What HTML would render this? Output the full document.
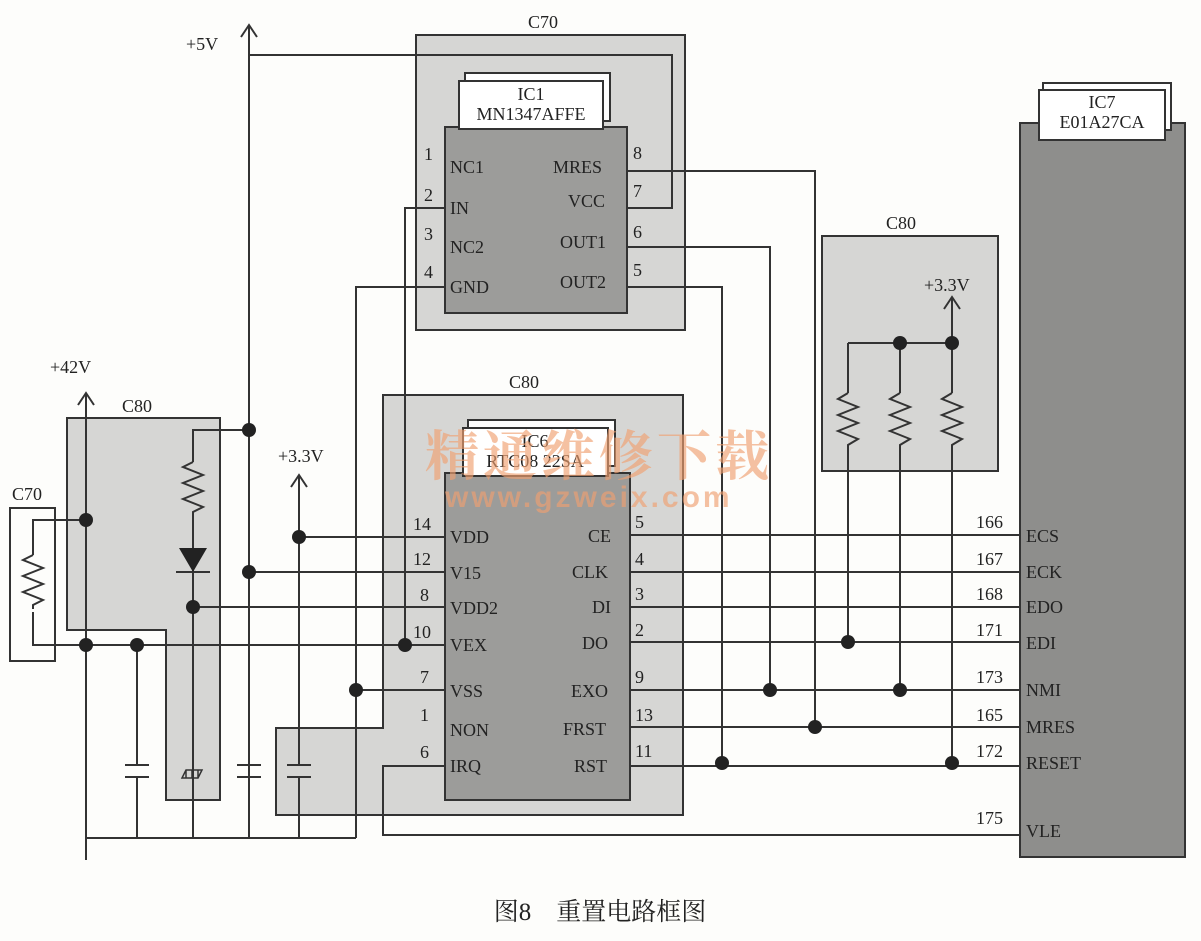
<!DOCTYPE html>
<html><head><meta charset="utf-8"><style>
html,body{margin:0;padding:0;background:#fdfdfb;}
svg{display:block;}
text{font-family:"Liberation Serif","Noto Serif CJK SC",serif;fill:#222;}
text.wm1{font-family:"Noto Serif CJK SC",serif;fill:#f0a070;fill-opacity:0.65;font-weight:bold;}
text.wm2{font-family:"Liberation Sans",sans-serif;fill:#f0a070;fill-opacity:0.65;font-weight:bold;}
</style></head><body>
<svg width="1201" height="941" viewBox="0 0 1201 941" xmlns="http://www.w3.org/2000/svg">
<g stroke="#333" stroke-width="2" fill="#d6d6d4">
<rect x="416" y="35" width="269" height="295"/>
<rect x="822" y="236" width="176" height="235"/>
<polygon points="383,395 683,395 683,815 276,815 276,728 383,728"/>
<polygon points="67,418 220,418 220,800 166,800 166,630 67,630"/>
<rect x="10" y="508" width="45" height="153" fill="#fdfdfb"/>
<rect x="445" y="127" width="182" height="186" fill="#9c9c9a"/>
<rect x="465" y="73" width="145" height="48" fill="#fff"/>
<rect x="459" y="81" width="144" height="48" fill="#fff"/>
<rect x="445" y="473" width="185" height="327" fill="#9c9c9a"/>
<rect x="468" y="420" width="147" height="46" fill="#fff"/>
<rect x="463" y="428" width="145" height="48" fill="#fff"/>
<rect x="1020" y="123" width="165" height="734" fill="#8e8e8c"/>
<rect x="1043" y="83" width="128" height="47" fill="#fff"/>
<rect x="1039" y="90" width="126" height="50" fill="#fff"/>
</g>
<g stroke="#333" stroke-width="2" fill="none">
<path d="M249,25 V838 M241,37 L249,25 L257,37"/>
<path d="M249,55 H672 V208 H627"/>
<path d="M445,208 H405 V645"/>
<path d="M445,287 H356 V838"/>
<path d="M627,171 H815 V727"/>
<path d="M627,247 H770 V690"/>
<path d="M627,287 H722 V763"/>
<path d="M952,297 V343 M944,309 L952,297 L960,309"/>
<path d="M848,343 H952"/>
<path d="M630,535 H1020 M630,572 H1020 M630,607 H1020 M630,642 H1020 M630,690 H1020 M630,727 H1020 M630,766 H1020"/>
<path d="M445,766 H383 V835 H1020"/>
<path d="M86,393 V860 M78,405 L86,393 L94,405"/>
<path d="M86,520 H33 V555 M33,612 V645 H445"/>
<path d="M86,838 H356"/>
<path d="M137,645 V765 M137,777 V838 M125,765 H149 M125,777 H149"/>
<path d="M249,430 H193 V462 M193,515 V838"/>
<path d="M176,572 H210"/>
<path d="M249,572 H445 M193,607 H445"/>
<path d="M237,765 H261 M237,777 H261"/>
<path d="M299,475 V765 M299,777 V838 M291,487 L299,475 L307,487 M299,537 H445 M287,765 H311 M287,777 H311"/>
<path d="M356,690 H445"/>
<path d="M182,778 L186,770 H202 L198,778 Z M186,770 V778 M192,770 V778 M198,770 V778" stroke-width="1.5"/>
<path d="M848,343 V393 M848,452 V642 M900,343 V393 M900,452 V690 M952,343 V393 M952,452 V763"/>
</g>
<polygon points="179,548 207,548 193,572" fill="#222"/>
<g fill="#222">
<circle cx="249" cy="430" r="7"/><circle cx="249" cy="572" r="7"/><circle cx="193" cy="607" r="7"/>
<circle cx="86" cy="520" r="7"/><circle cx="86" cy="645" r="7"/><circle cx="137" cy="645" r="7"/>
<circle cx="299" cy="537" r="7"/><circle cx="405" cy="645" r="7"/><circle cx="356" cy="690" r="7"/>
<circle cx="900" cy="343" r="7"/><circle cx="952" cy="343" r="7"/>
<circle cx="848" cy="642" r="7"/><circle cx="770" cy="690" r="7"/><circle cx="900" cy="690" r="7"/>
<circle cx="815" cy="727" r="7"/><circle cx="722" cy="763" r="7"/><circle cx="952" cy="763" r="7"/>
</g>
<g stroke="#333" stroke-width="2" fill="none">
<path d="M848,393 l-10,6 l20,8 l-20,8 l20,8 l-20,8 l20,8 l-10,6 v7"/>
<path d="M900,393 l-10,6 l20,8 l-20,8 l20,8 l-20,8 l20,8 l-10,6 v7"/>
<path d="M952,393 l-10,6 l20,8 l-20,8 l20,8 l-20,8 l20,8 l-10,6 v7"/>
<path d="M193,462 l-10,5 l20,8 l-20,8 l20,8 l-20,8 l20,8 l-10,5 v3"/>
<path d="M33,555 l-10,5 l20,8 l-20,8 l20,8 l-20,8 l20,8 l-10,5 v4"/>
</g>
<g font-size="18">
<text x="186" y="50">+5V</text>
<text x="50" y="373">+42V</text>
<text x="122" y="412">C80</text>
<text x="12" y="500">C70</text>
<text x="278" y="462">+3.3V</text>
<text x="528" y="28">C70</text>
<text x="509" y="388">C80</text>
<text x="886" y="229">C80</text>
<text x="924" y="291">+3.3V</text>
<text x="531" y="100" text-anchor="middle">IC1</text>
<text x="531" y="120" text-anchor="middle">MN1347AFFE</text>
<text x="535" y="447" text-anchor="middle">IC6</text>
<text x="535" y="467" text-anchor="middle">RTC08 22SA</text>
<text x="1102" y="108" text-anchor="middle">IC7</text>
<text x="1102" y="128" text-anchor="middle">E01A27CA</text>
<text x="424" y="160">1</text><text x="424" y="201">2</text><text x="424" y="240">3</text><text x="424" y="278">4</text>
<text x="450" y="173">NC1</text><text x="450" y="214">IN</text><text x="450" y="253">NC2</text><text x="450" y="293">GND</text>
<text x="553" y="173">MRES</text><text x="568" y="207">VCC</text><text x="560" y="248">OUT1</text><text x="560" y="288">OUT2</text>
<text x="633" y="159">8</text><text x="633" y="197">7</text><text x="633" y="238">6</text><text x="633" y="276">5</text>
<text x="413" y="530">14</text><text x="413" y="565">12</text><text x="420" y="601">8</text><text x="413" y="638">10</text>
<text x="420" y="683">7</text><text x="420" y="721">1</text><text x="420" y="758">6</text>
<text x="450" y="543">VDD</text><text x="450" y="579">V15</text><text x="450" y="614">VDD2</text><text x="450" y="651">VEX</text>
<text x="450" y="697">VSS</text><text x="450" y="736">NON</text><text x="450" y="772">IRQ</text>
<text x="588" y="542">CE</text><text x="572" y="578">CLK</text><text x="592" y="613">DI</text><text x="582" y="649">DO</text>
<text x="571" y="697">EXO</text><text x="563" y="735">FRST</text><text x="574" y="772">RST</text>
<text x="635" y="528">5</text><text x="635" y="565">4</text><text x="635" y="600">3</text><text x="635" y="636">2</text>
<text x="635" y="683">9</text><text x="635" y="721">13</text><text x="635" y="757">11</text>
<text x="976" y="528">166</text><text x="976" y="565">167</text><text x="976" y="600">168</text><text x="976" y="636">171</text>
<text x="976" y="683">173</text><text x="976" y="721">165</text><text x="976" y="757">172</text><text x="976" y="824">175</text>
<text x="1026" y="542">ECS</text><text x="1026" y="578">ECK</text><text x="1026" y="613">EDO</text><text x="1026" y="649">EDI</text>
<text x="1026" y="696">NMI</text><text x="1026" y="733">MRES</text><text x="1026" y="769">RESET</text><text x="1026" y="837">VLE</text>
</g>
<text class="wm1" x="425" y="475" font-size="54" letter-spacing="4">精通维修下载</text>
<text class="wm2" x="445" y="507" font-size="30" letter-spacing="3">www.gzweix.com</text>
<text x="600" y="920" font-size="25" text-anchor="middle">图8　重置电路框图</text>
</svg>
</body></html>
